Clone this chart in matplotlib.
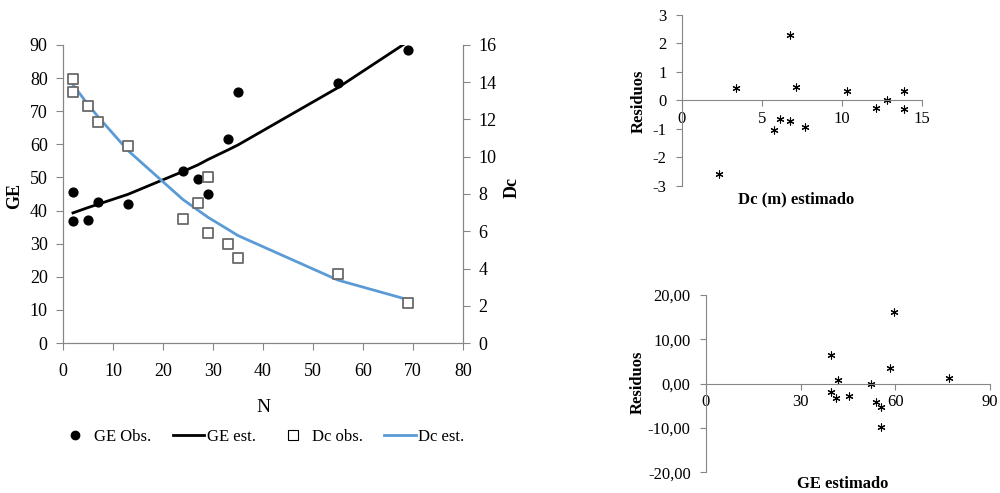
import matplotlib
matplotlib.use("Agg")
import matplotlib.pyplot as plt
from matplotlib.lines import Line2D

plt.rcParams["font.family"] = ["Liberation Serif", "DejaVu Serif"]
plt.rcParams["axes.unicode_minus"] = False

# main chart data
n_obs = [2, 2, 5, 7, 13, 24, 27, 29, 29, 33, 35, 55, 69]
ge_obs = [45.6, 37.0, 37.2, 42.7, 42.1, 51.8, 49.5, 50.0, 45.1, 61.6, 75.8, 78.5, 88.4]
dc_obs = [14.19, 13.49, 12.72, 11.88, 10.59, 6.65, 7.51, 8.89, 5.92, 5.30, 4.58, 3.72, 2.13]

n_est = [2, 5, 7, 13, 24, 27, 29, 33, 35, 55, 69]
ge_est = [39.3, 40.9, 41.9, 44.9, 51.8, 53.8, 55.4, 58.3, 59.8, 77.1, 91.0]
dc_est = [13.86, 12.8, 12.15, 10.33, 7.7, 7.13, 6.75, 6.1, 5.77, 3.38, 2.33]

# residuals vs estimated Dc
dc_res_x = [2.33, 3.38, 5.77, 6.1, 6.75, 6.75, 7.13, 7.7, 10.33, 12.15, 12.8, 13.9, 13.9]
dc_res_y = [-2.6, 0.44, -1.04, -0.67, 2.29, -0.73, 0.48, -0.95, 0.33, -0.28, 0.0, 0.33, -0.3]

# residuals vs estimated GE
ge_res_x = [39.5, 39.5, 41.2, 41.8, 45.2, 52.2, 53.9, 55.6, 55.4, 58.3, 59.7, 77.0]
ge_res_y = [6.45, -1.95, -3.3, 0.8, -2.7, 0.0, -4.05, -5.2, -9.9, 3.45, 16.2, 1.2]

blue = "#5B9BD5"
grey = "#868686"

fig = plt.figure(figsize=(10, 4.93), dpi=100)

# ---- main chart
ax = fig.add_axes([0.063, 0.304, 0.400, 0.605])
ax2 = ax.twinx()
ax.scatter(n_obs, ge_obs, color="black", s=40, zorder=3)
ax.plot(n_est, ge_est, color="black", lw=2)
ax2.scatter(n_obs, dc_obs, marker="s", facecolor="white", edgecolor="#6a6a6a", s=48, lw=1.3, zorder=3)
ax2.plot(n_est, dc_est, color=blue, lw=2)

ax.set_xlim(0, 80)
ax.set_ylim(0, 90)
ax2.set_ylim(0, 16)
ax.set_xticks(range(0, 81, 10))
ax.set_yticks(range(0, 91, 10))
ax2.set_yticks(range(0, 17, 2))
for a in (ax, ax2):
    for s in a.spines.values():
        s.set_color(grey)
    a.spines["top"].set_visible(False)
    a.tick_params(color=grey, labelsize=13, length=5, pad=6)
ax.tick_params(axis="x", pad=9)

fig.text(0.015, 0.602, "GE", rotation=90, fontsize=13, fontweight="bold", ha="center", va="center")
fig.text(0.512, 0.619, "Dc", rotation=90, fontsize=13, fontweight="bold", ha="center", va="center")
fig.text(0.263, 0.174, "N", fontsize=14, ha="center", va="center")

handles = [
    Line2D([], [], marker="o", color="black", ls="none", markersize=6),
    Line2D([], [], color="black", lw=2),
    Line2D([], [], marker="s", ls="none", markerfacecolor="white", markeredgecolor="black", markersize=7, mew=0.8),
    Line2D([], [], color=blue, lw=2),
]
fig.legend(handles, ["GE Obs.", "GE est.", "Dc obs.", "Dc est."], ncol=4, frameon=False,
           loc="center", bbox_to_anchor=(0.262, 0.114), fontsize=12,
           handlelength=1.9, handletextpad=0.15, columnspacing=1.3)

# ---- residuals, Dc
axr1 = fig.add_axes([0.682, 0.623, 0.240, 0.347])
axr1.scatter(dc_res_x, dc_res_y, marker=(6, 2, 0), color="black", s=26, lw=0.8)
axr1.set_xlim(0, 15)
axr1.set_ylim(-3, 3)
axr1.set_xticks([0, 5, 10, 15])
axr1.set_yticks(range(-3, 4))

# ---- residuals, GE
axr2 = fig.add_axes([0.706, 0.042, 0.284, 0.360])
axr2.scatter(ge_res_x, ge_res_y, marker=(6, 2, 0), color="black", s=26, lw=0.8)
axr2.set_xlim(0, 90)
axr2.set_ylim(-20, 20)
axr2.set_xticks([0, 30, 60, 90])
axr2.set_yticks([-20, -10, 0, 10, 20])
axr2.set_yticklabels(["-20,00", "-10,00", "0,00", "10,00", "20,00"])

for a in (axr1, axr2):
    a.spines["top"].set_visible(False)
    a.spines["right"].set_visible(False)
    a.spines["bottom"].set_position(("data", 0))
    for s in a.spines.values():
        s.set_color(grey)
    a.tick_params(color=grey, labelsize=12, length=4)
    a.tick_params(axis="y", pad=7)

fig.text(0.639, 0.795, "Residuos", rotation=90, fontsize=12, fontweight="bold", ha="center", va="center")
fig.text(0.796, 0.596, "Dc (m) estimado", fontsize=12, fontweight="bold", ha="center", va="center")
fig.text(0.638, 0.225, "Residuos", rotation=90, fontsize=12, fontweight="bold", ha="center", va="center")
fig.text(0.843, 0.018, "GE estimado", fontsize=12, fontweight="bold", ha="center", va="center")

fig.savefig("out.png", dpi=100)
